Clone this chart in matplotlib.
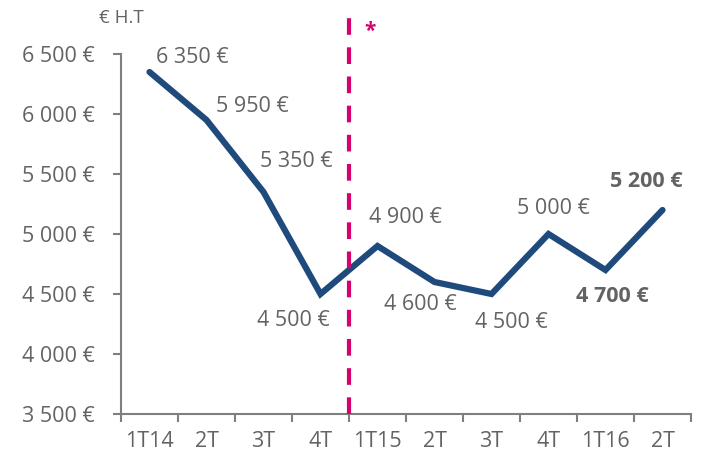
import matplotlib
matplotlib.use("Agg")
import matplotlib.pyplot as plt
import numpy as np

# Quarterly values (€ H.T)
quarters = ["1T14", "2T", "3T", "4T", "1T15", "2T", "3T", "4T", "1T16", "2T"]
values = [6350, 5950, 5350, 4500, 4900, 4600, 4500, 5000, 4700, 5200]
bold_labels = [False] * 8 + [True, True]
y_ticks = [3500, 4000, 4500, 5000, 5500, 6000, 6500]

# label offsets in pixels (dx, dy) relative to each point
label_offsets = [(43, 14), (46, 13), (33, 30), (-27, -27), (28, 28),
                 (-14, -23), (20, -29), (5, 25), (7, -27), (-16, 28)]

LINE_COLOR = "#1F4A7C"
TEXT_COLOR = "#636363"
AXIS_COLOR = "#7F7F7F"
MARK_COLOR = "#D6006F"
FS = 15.5

plt.rcParams["font.family"] = ["Open Sans", "DejaVu Sans"]

W, H = 705, 463
fig = plt.figure(figsize=(W / 100, H / 100), dpi=100)
ax = fig.add_axes([121 / W, 1 - 414 / H, (691 - 121) / W, (414 - 54) / H])

x = np.arange(len(quarters))
ax.plot(x, values, color=LINE_COLOR, linewidth=4.5, solid_capstyle="round",
        solid_joinstyle="miter", zorder=3)

ax.set_xlim(-0.5, len(quarters) - 0.5)
ax.set_ylim(3500, 6500)

# data labels
px = 0.72
for xi, v, (dx, dy), b in zip(x, values, label_offsets, bold_labels):
    ax.annotate(f"{v:,}".replace(",", " ") + " €", (xi, v),
                xytext=(dx * px, dy * px), textcoords="offset points",
                ha="center", va="center", fontsize=FS, color=TEXT_COLOR,
                fontweight="bold" if b else "normal")

# separator between 2014 and 2015
ax.axvline(3.5, ymin=0, ymax=1.1, color=MARK_COLOR, linewidth=3,
           linestyle=(0, (4, 3)), clip_on=False, zorder=4)
ax.text(3.87, 6690, "*", color=MARK_COLOR, fontsize=15, fontweight="bold",
        ha="center", va="center")

ax.text(0.0, 1.1, "€ H.T", transform=ax.transAxes, ha="center",
        va="center", fontsize=13.5, color=TEXT_COLOR)

# axes styling
for side in ["top", "right"]:
    ax.spines[side].set_visible(False)
for side in ["left", "bottom"]:
    ax.spines[side].set_color(AXIS_COLOR)
    ax.spines[side].set_linewidth(1.5)

ax.set_yticks(y_ticks)
ax.set_yticklabels([f"{t:,}".replace(",", " ") + " €" for t in y_ticks])
ax.tick_params(axis="y", direction="out", length=6, width=1.5,
               color=AXIS_COLOR, labelcolor=TEXT_COLOR, labelsize=FS, pad=13)

ax.set_xticks(np.arange(-0.5, len(quarters), 1.0))
ax.set_xticklabels([])
ax.set_xticks(x, minor=True)
ax.set_xticklabels(quarters, minor=True)
ax.tick_params(axis="x", which="major", direction="out", length=6,
               width=1.5, color=AXIS_COLOR)
ax.tick_params(axis="x", which="minor", length=0, labelcolor=TEXT_COLOR,
               labelsize=FS, pad=12)

fig.savefig("out.png", dpi=100)
